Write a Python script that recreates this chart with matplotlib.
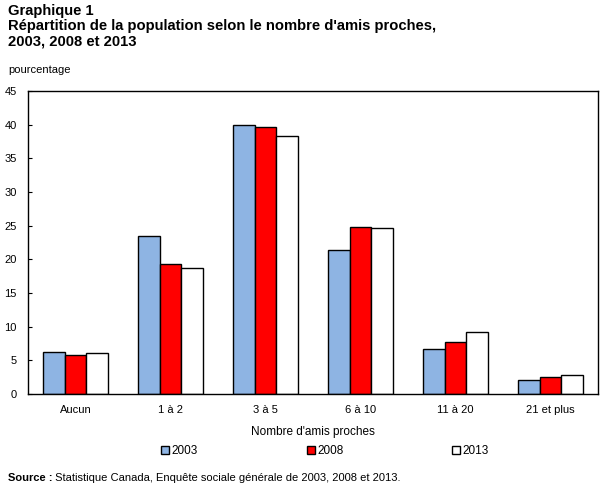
import numpy as np
import matplotlib
matplotlib.use('Agg')
import matplotlib.pyplot as plt
from matplotlib.patches import Patch

plt.rcParams['font.family'] = ['Liberation Sans', 'DejaVu Sans']

# Data
categories = ['Aucun', '1 à 2', '3 à 5', '6 à 10', '11 à 20', '21 et plus']
years = ['2003', '2008', '2013']
values_2003 = [6.2, 23.5, 40.0, 21.4, 6.7, 2.1]
values_2008 = [5.8, 19.3, 39.7, 24.8, 7.7, 2.5]
values_2013 = [6.1, 18.7, 38.3, 24.7, 9.2, 2.8]
colors = ['#8EB4E3', '#FF0000', '#FFFFFF']

fig = plt.figure(figsize=(6.07, 4.93), dpi=100)
ax = fig.add_axes([28 / 607, 1 - 394 / 493, 570 / 607, 303 / 493])

x = np.arange(len(categories))
w = 0.228
for i, vals in enumerate([values_2003, values_2008, values_2013]):
    ax.bar(x + (i - 1) * w, vals, w, color=colors[i], edgecolor='black', linewidth=1.0)

ax.set_xlim(-0.5, len(categories) - 0.5)
ax.set_ylim(0, 45)
ax.set_yticks(range(0, 46, 5))
ax.set_xticks(x)
ax.set_xticklabels(categories)
ax.tick_params(axis='y', direction='in', length=3, labelsize=8, pad=8)
ax.tick_params(axis='x', length=0, labelsize=8, pad=8)
for s in ax.spines.values():
    s.set_linewidth(1.0)

ax.set_xlabel("Nombre d'amis proches", fontsize=8.5, labelpad=8)

fig.text(8 / 607, 1 - 4 / 493, 'Graphique 1\nRépartition de la population selon le nombre d\'amis proches,\n2003, 2008 et 2013',
         fontsize=10.6, fontweight='bold', va='top', ha='left', linespacing=1.1)
fig.text(8 / 607, 1 - 70 / 493, 'pourcentage', fontsize=8, va='center', ha='left')

handles = [Patch(facecolor=c, edgecolor='black', linewidth=1.0) for c in colors]
fig.legend(handles, years, loc='center', bbox_to_anchor=(325 / 607, 1 - 451 / 493), ncol=3,
           frameon=False, fontsize=8.5, handlelength=0.7, handleheight=0.7, handletextpad=0.2,
           columnspacing=9.2)

src = fig.text(8 / 607, 1 - 478 / 493, 'Source :', fontsize=8, fontweight='bold', va='center', ha='left')
ax.annotate(' Statistique Canada, Enquête sociale générale de 2003, 2008 et 2013.', xy=(1, 0.5),
            xycoords=src, va='center', ha='left', fontsize=8)

fig.savefig('out.png', dpi=100)
